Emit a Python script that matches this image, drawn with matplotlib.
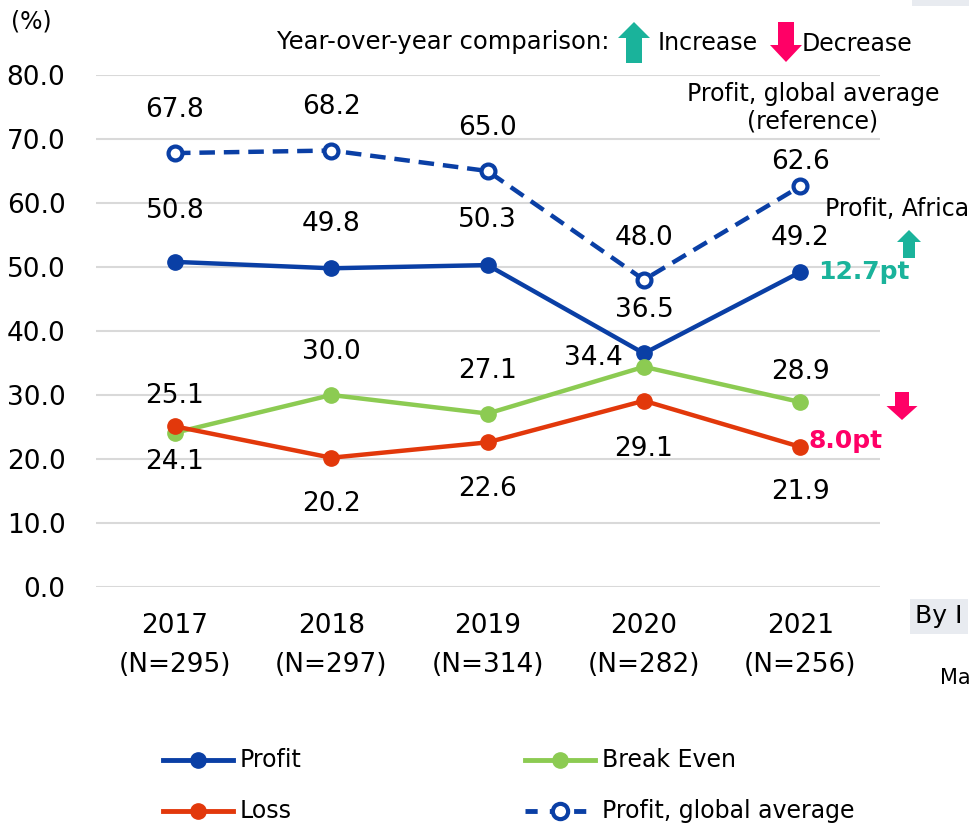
import matplotlib
matplotlib.use("Agg")
import matplotlib.pyplot as plt
from matplotlib.lines import Line2D
from matplotlib.patches import Polygon

# data
years = ["2017", "2018", "2019", "2020", "2021"]
counts = [295, 297, 314, 282, 256]
profit = [50.8, 49.8, 50.3, 36.5, 49.2]
break_even = [24.1, 30.0, 27.1, 34.4, 28.9]
loss = [25.1, 20.2, 22.6, 29.1, 21.9]
profit_global = [67.8, 68.2, 65.0, 48.0, 62.6]
profit_change = 12.7
loss_change = 8.0

# label offsets (pixels, +y is up)
off_global = [(0, 43), (0, 44), (0, 43), (0, 42), (0, 24)]
off_profit = [(0, 51), (0, 44), (0, 45), (0, 43), (0, 34)]
off_break = [(0, -29), (0, 43), (0, 43), (-51, 9), (0, 30)]
off_loss = [(0, 30), (0, -46), (0, -47), (0, -48), (0, -45)]

C_PROFIT = "#0a3fa5"
C_BREAK = "#8ccb52"
C_LOSS = "#e2380b"
C_UP = "#1ab39b"
C_DOWN = "#ff0066"

W, H = 969, 825
plt.rcParams['font.family'] = ['DejaVu Sans']
fig = plt.figure(figsize=(W / 100, H / 100), dpi=100)
ax = fig.add_axes([96 / W, 1 - 587 / H, (880 - 96) / W, (587 - 75) / H])


def fx(x):
    return x / W


def fy(y):
    return 1 - y / H


x = list(range(len(years)))
ax.plot(x, profit_global, color=C_PROFIT, lw=3.2, ls=(0, (3.5, 2)), marker="o",
        ms=10, mfc="white", mec=C_PROFIT, mew=3, zorder=3)
ax.plot(x, profit, color=C_PROFIT, lw=3.2, marker="o", ms=11, zorder=4)
ax.plot(x, break_even, color=C_BREAK, lw=3.2, marker="o", ms=11, zorder=5)
ax.plot(x, loss, color=C_LOSS, lw=3.2, marker="o", ms=11, zorder=6)

for series, offs in [(profit_global, off_global), (profit, off_profit),
                     (break_even, off_break), (loss, off_loss)]:
    for i, v in enumerate(series):
        dx, dy = offs[i]
        ax.annotate("{:.1f}".format(v), (i, v), xytext=(dx * 0.72, dy * 0.72),
                    textcoords="offset points", ha="center", va="center",
                    fontsize=19, zorder=7)

ax.annotate("{:.1f}pt".format(profit_change), (4, profit[4]), xytext=(13, 0),
            textcoords="offset points", ha="left", va="center", fontsize=18,
            fontweight="bold", color=C_UP)
ax.annotate("{:.1f}pt".format(loss_change), (4, loss[4]), xytext=(6, 4),
            textcoords="offset points", ha="left", va="center", fontsize=18,
            fontweight="bold", color=C_DOWN)

ax.set_xlim(-0.505, 4.51)
ax.set_ylim(0, 80)
ax.set_yticks(range(0, 81, 10))
ax.set_yticklabels(["{:.1f}".format(v) for v in range(0, 81, 10)], fontsize=19)
ax.set_xticks(x)
ax.set_xticklabels(["{}\n(N={})".format(y, n) for y, n in zip(years, counts)],
                   fontsize=19, linespacing=1.62)
ax.tick_params(length=0)
ax.tick_params(axis="y", pad=22)
ax.tick_params(axis="x", pad=19)
ax.grid(axis="y", color="#d9d9d9", lw=1.5)
ax.set_axisbelow(True)
for s in ax.spines.values():
    s.set_visible(False)


def arrow(xc, ytop, ybot, width, shaft, head, up=True, color=C_UP):
    # block arrow in figure pixel coords
    hw = width / 2
    sw = shaft / 2
    if up:
        pts = [(xc, ytop), (xc + hw, ytop + head), (xc + sw, ytop + head),
               (xc + sw, ybot), (xc - sw, ybot), (xc - sw, ytop + head),
               (xc - hw, ytop + head)]
    else:
        pts = [(xc, ybot), (xc + hw, ybot - head), (xc + sw, ybot - head),
               (xc + sw, ytop), (xc - sw, ytop), (xc - sw, ybot - head),
               (xc - hw, ybot - head)]
    fig.add_artist(Polygon([(fx(a), fy(b)) for a, b in pts], closed=True,
                           transform=fig.transFigure, color=color, lw=0))


# header
fig.text(fx(11), fy(22), "(%)", fontsize=17, va="center")
fig.text(fx(277), fy(42), "Year-over-year comparison:", fontsize=17.5, va="center")
arrow(634, 22, 63, 32, 16, 16, up=True, color=C_UP)
fig.text(fx(658), fy(43), "Increase", fontsize=17, va="center")
arrow(786, 22, 62, 32, 16, 17, up=False, color=C_DOWN)
fig.text(fx(802), fy(44), "Decrease", fontsize=17, va="center")

fig.text(fx(813), fy(108), "Profit, global average\n(reference)", fontsize=17,
         ha="center", va="center", linespacing=1.2)
fig.text(fx(825), fy(209), "Profit, Africa", fontsize=17, va="center")
arrow(909, 230, 258, 24, 12, 12, up=True, color=C_UP)
arrow(902, 392, 420, 31, 14, 14, up=False, color=C_DOWN)

# clipped bits of the neighbouring panel
fig.text(fx(915), fy(616), "By I", fontsize=18, va="center",
         bbox=dict(facecolor="#e8ebf0", edgecolor="none", pad=4))
fig.text(fx(940), fy(678), "Ma", fontsize=15, va="center")
fig.add_artist(Polygon([(fx(912), fy(0)), (fx(969), fy(0)), (fx(969), fy(6)),
                        (fx(912), fy(6))], closed=True, transform=fig.transFigure,
                       color="#e8ebf0", lw=0))

# legend
legend_items = [
    (163, 760, C_PROFIT, "-", "Profit", C_PROFIT),
    (163, 811, C_LOSS, "-", "Loss", C_LOSS),
    (525, 760, C_BREAK, "-", "Break Even", C_BREAK),
    (525, 811, C_PROFIT, (0, (2.5, 2.5)), "Profit, global average", "white"),
]
for lx, ly, col, ls, lab, mfc in legend_items:
    fig.add_artist(Line2D([fx(lx), fx(lx + 70)], [fy(ly), fy(ly)], color=col,
                          lw=3.5, ls=ls, transform=fig.transFigure))
    fig.add_artist(Line2D([fx(lx + 35)], [fy(ly)], color=col, marker="o", ms=11,
                          mfc=mfc, mec=col, mew=3 if mfc == "white" else 1,
                          transform=fig.transFigure))
    fig.text(fx(lx + 77), fy(ly), lab, fontsize=17, va="center")

fig.savefig("out.png", dpi=100)
